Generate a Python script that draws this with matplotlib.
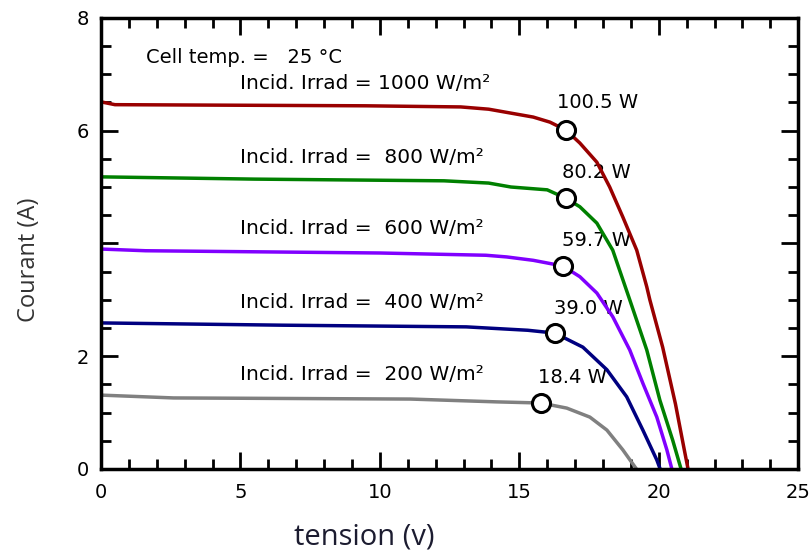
import matplotlib.pyplot as plt
from matplotlib.ticker import MultipleLocator

irrad = [1000, 800, 600, 400, 200]
colors = ['#990000', '#008000', '#8000ff', '#000080', '#808080']

# I-V curves
v_1000 = [0, 0.5, 9.5, 12.9, 13.9, 15.5, 16.1, 16.67, 17.17, 17.78, 18.24, 18.71, 19.21, 19.57, 19.68, 20.14, 20.6, 20.9, 21.05]
i_1000 = [6.51, 6.46, 6.44, 6.42, 6.38, 6.24, 6.15, 6.01, 5.78, 5.44, 5.0, 4.47, 3.88, 3.23, 3.0, 2.16, 1.15, 0.38, 0]
v_800 = [0, 5.5, 12.3, 13.9, 14.7, 16.0, 16.67, 17.17, 17.78, 18.35, 18.96, 19.57, 20.04, 20.5, 20.8]
i_800 = [5.18, 5.14, 5.11, 5.07, 5.0, 4.95, 4.80, 4.65, 4.36, 3.88, 3.0, 2.11, 1.22, 0.51, 0]
v_600 = [0, 1.6, 10.0, 13.8, 14.55, 15.5, 16.56, 17.17, 17.78, 18.35, 18.96, 19.43, 19.93, 20.29, 20.47]
i_600 = [3.90, 3.87, 3.83, 3.79, 3.76, 3.70, 3.60, 3.41, 3.12, 2.70, 2.11, 1.52, 0.92, 0.34, 0]
v_400 = [0, 6.5, 13.1, 15.3, 16.27, 17.28, 18.14, 18.85, 19.43, 19.93, 20.05]
i_400 = [2.59, 2.55, 2.52, 2.46, 2.41, 2.16, 1.76, 1.28, 0.69, 0.16, 0]
v_200 = [0, 2.6, 11.1, 14.2, 15.77, 16.7, 17.53, 18.14, 18.71, 19.2]
i_200 = [1.31, 1.26, 1.24, 1.19, 1.17, 1.08, 0.92, 0.69, 0.34, 0]

curves_v = [v_1000, v_800, v_600, v_400, v_200]
curves_i = [i_1000, i_800, i_600, i_400, i_200]

mpp_v = [16.67, 16.67, 16.56, 16.27, 15.77]
mpp_i = [6.01, 4.80, 3.60, 2.41, 1.17]
mpp_p = ['100.5', '80.2', '59.7', '39.0', '18.4']

lab_y = [6.84, 5.53, 4.26, 2.96, 1.68]
pw_x = [16.34, 16.52, 16.52, 16.24, 15.66]
pw_y = [6.49, 5.25, 4.06, 2.85, 1.63]

plt.rcParams['font.family'] = ['DejaVu Sans']

fig = plt.figure(figsize=(8.12, 5.57), dpi=100)
ax = fig.add_axes([0.1244, 0.158, 0.8586, 0.81])

for k in range(5):
    ax.plot(curves_v[k], curves_i[k], color=colors[k], lw=2.5, zorder=2)
    ax.plot(mpp_v[k], mpp_i[k], 'o', ms=13, mfc='white', mec='black', mew=2.2, zorder=3)
    if irrad[k] >= 1000:
        irr_txt = 'Incid. Irrad = %d W/m\u00b2' % irrad[k]
    else:
        irr_txt = 'Incid. Irrad =  %d W/m\u00b2' % irrad[k]
    ax.text(4.98, lab_y[k], irr_txt, fontsize=14.5, va='center', ha='left')
    ax.text(pw_x[k], pw_y[k], mpp_p[k] + ' W', fontsize=14, va='center', ha='left', zorder=1)

ax.text(1.6, 7.3, 'Cell temp. =   25 \u00b0C', fontsize=14, va='center', ha='left')

ax.set_xlim(0, 25)
ax.set_ylim(0, 8)
ax.set_xticks([0, 5, 10, 15, 20, 25])
ax.set_yticks([0, 2, 4, 6, 8])
ax.set_yticklabels(['0', '2', '', '6', '8'])
ax.xaxis.set_minor_locator(MultipleLocator(1))
ax.yaxis.set_minor_locator(MultipleLocator(0.5))
ax.tick_params(which='both', direction='in', top=True, right=True, width=2, labelsize=14)
ax.tick_params(which='major', length=12)
ax.tick_params(axis='x', which='major', pad=10)
ax.tick_params(axis='y', which='major', pad=9)
ax.tick_params(which='minor', length=7)
for s in ax.spines.values():
    s.set_linewidth(2.5)

fig.text(0.0357, 0.533, 'Courant (A)', fontsize=17, family='Open Sans', rotation=90,
         ha='center', va='center', color='#333333')
fig.text(0.449, 0.036, 'tension (v)', fontsize=21, family='Open Sans', color='#1c1c30',
         ha='center', va='center')

fig.savefig('out.png', dpi=100)
